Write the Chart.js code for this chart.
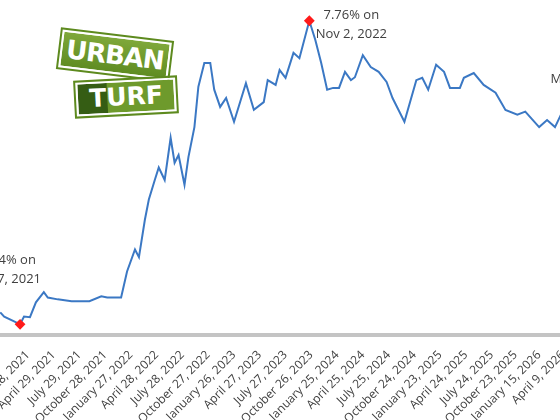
<!DOCTYPE html>
<html>
<head>
<meta charset="utf-8">
<script src="https://cdn.jsdelivr.net/npm/chart.js@4"></script>
<style>
  body { margin: 0; width: 560px; height: 420px; overflow: hidden; background: #fff; position: relative; }
  #wrap { position: absolute; left: -100px; top: 0; width: 760px; height: 420px; }
  .sign { position: absolute; font-family: 'DejaVu Sans', sans-serif; font-weight: bold; color: #fff;
          border: 2px solid #fff; outline: 2px solid #5d8a1e; text-align: center; }
  #s1 { left: 60px; top: 36px; width: 106px; height: 34px; line-height: 34px; font-size: 26px;
        background: linear-gradient(#7fa83a, #5f8c22); transform: rotate(7deg); letter-spacing: -1px; }
  #s2 { left: 76px; top: 80px; width: 96px; height: 30px; line-height: 30px; font-size: 25px;
        background: linear-gradient(90deg, #355d14 30%, #6e9a2c 31%); transform: rotate(-3deg); }
</style>
</head>
<body>
<div id="wrap"><canvas id="c" width="760" height="420"></canvas></div>
<div class="sign" id="s1">URBAN</div>
<div class="sign" id="s2">TURF</div>
<script>
// weeks since the Jan 7, 2021 low
const weeks = [-10, -8, -3, 0, 2, 5, 8, 12, 14, 19, 26, 35, 41, 44, 51, 54, 58, 60, 63, 65, 68, 70, 73, 76, 78, 80, 83, 85, 88, 90, 93, 96, 98, 101, 104, 108, 114, 118, 123, 125, 129, 131, 134, 138, 141, 146, 149, 152, 155, 158, 161, 164, 167, 169, 173, 177, 181, 185, 188, 194, 200, 203, 206, 210, 214, 217, 222, 224, 229, 234, 240, 245, 251, 255, 262, 266, 270, 273, 280];
const rates = [2.85, 2.78, 2.70, 2.65, 2.78, 2.77, 3.02, 3.19, 3.10, 3.07, 3.04, 3.04, 3.12, 3.10, 3.10, 3.54, 3.91, 3.78, 4.41, 4.75, 5.08, 5.29, 5.08, 5.79, 5.37, 5.50, 5.00, 5.47, 5.97, 6.65, 7.05, 7.05, 6.60, 6.31, 6.46, 6.06, 6.71, 6.26, 6.39, 6.76, 6.68, 6.93, 6.80, 7.22, 7.13, 7.76, 7.44, 7.05, 6.60, 6.63, 6.63, 6.90, 6.76, 6.81, 7.18, 6.98, 6.90, 6.73, 6.46, 6.06, 6.76, 6.80, 6.60, 7.02, 6.90, 6.63, 6.63, 6.80, 6.88, 6.68, 6.55, 6.26, 6.18, 6.23, 5.97, 6.09, 5.97, 6.18, 6.51];
const tickWeeks = [4, 17, 30, 43, 56, 69, 82, 95, 108, 121, 134, 147, 160, 173, 186, 199, 212, 225, 238, 250, 262, 274];
const tickLabels = ['January 28, 2021', 'April 29, 2021', 'July 29, 2021', 'October 28, 2021', 'January 27, 2022', 'April 28, 2022', 'July 28, 2022', 'October 27, 2022', 'January 26, 2023', 'April 27, 2023', 'July 27, 2023', 'October 26, 2023', 'January 25, 2024', 'April 25, 2024', 'July 25, 2024', 'October 24, 2024', 'January 23, 2025', 'April 24, 2025', 'July 24, 2025', 'October 23, 2025', 'January 15, 2026', 'April 9, 2026'];
const lowIdx = 3, highIdx = 45;
const notes = [
  { idx: lowIdx, lines: ['2.64% on', 'Jan 7, 2021'], dx: -12, dy: -60 },
  { idx: highIdx, lines: ['7.76% on', 'Nov 2, 2022'], dx: 42, dy: -2 },
  { idx: weeks.length - 1, lines: ['May 7, 2026'], dx: 12, dy: -12 }
];

const points = weeks.map((w, i) => ({ x: w, y: rates[i] }));

const notePlugin = {
  id: 'notes',
  afterDatasetsDraw(chart) {
    const { ctx, scales } = chart;
    ctx.save();
    ctx.font = '13px "Open Sans"';
    ctx.fillStyle = '#404040';
    ctx.textAlign = 'center';
    notes.forEach(n => {
      const px = scales.x.getPixelForValue(weeks[n.idx]) + n.dx;
      const py = scales.y.getPixelForValue(rates[n.idx]) + n.dy;
      n.lines.forEach((t, i) => ctx.fillText(t, px, py + i * 19));
    });
    ctx.restore();
  }
};

new Chart(document.getElementById('c'), {
  type: 'line',
  data: {
    datasets: [{
      data: points,
      borderColor: '#3b78c4',
      borderWidth: 2,
      tension: 0,
      pointRadius: points.map((_, i) => (i === lowIdx || i === highIdx) ? 4 : 0),
      pointStyle: 'rectRot',
      pointBackgroundColor: '#ff1a1a',
      pointBorderColor: '#ff1a1a'
    }]
  },
  options: {
    responsive: false,
    animation: false,
    layout: { padding: { left: 21, right: 0, top: 0, bottom: 0 } },
    plugins: { legend: { display: false }, tooltip: { enabled: false } },
    scales: {
      x: {
        type: 'linear',
        min: -50,
        max: 323,
        grid: { display: false },
        border: { color: '#c4c4c4', width: 4 },
        afterBuildTicks: axis => { axis.ticks = tickWeeks.map(v => ({ value: v })); },
        afterFit: axis => { axis.height = 85; },
        ticks: {
          autoSkip: false,
          maxRotation: 45,
          minRotation: 45,
          padding: 5,
          color: '#404040',
          font: { family: 'Open Sans', size: 12 },
          callback: v => tickLabels[tickWeeks.indexOf(v)] || ''
        }
      },
      y: { display: false, min: 2.47, max: 8.11 }
    }
  },
  plugins: [notePlugin]
});
</script>
</body>
</html>
